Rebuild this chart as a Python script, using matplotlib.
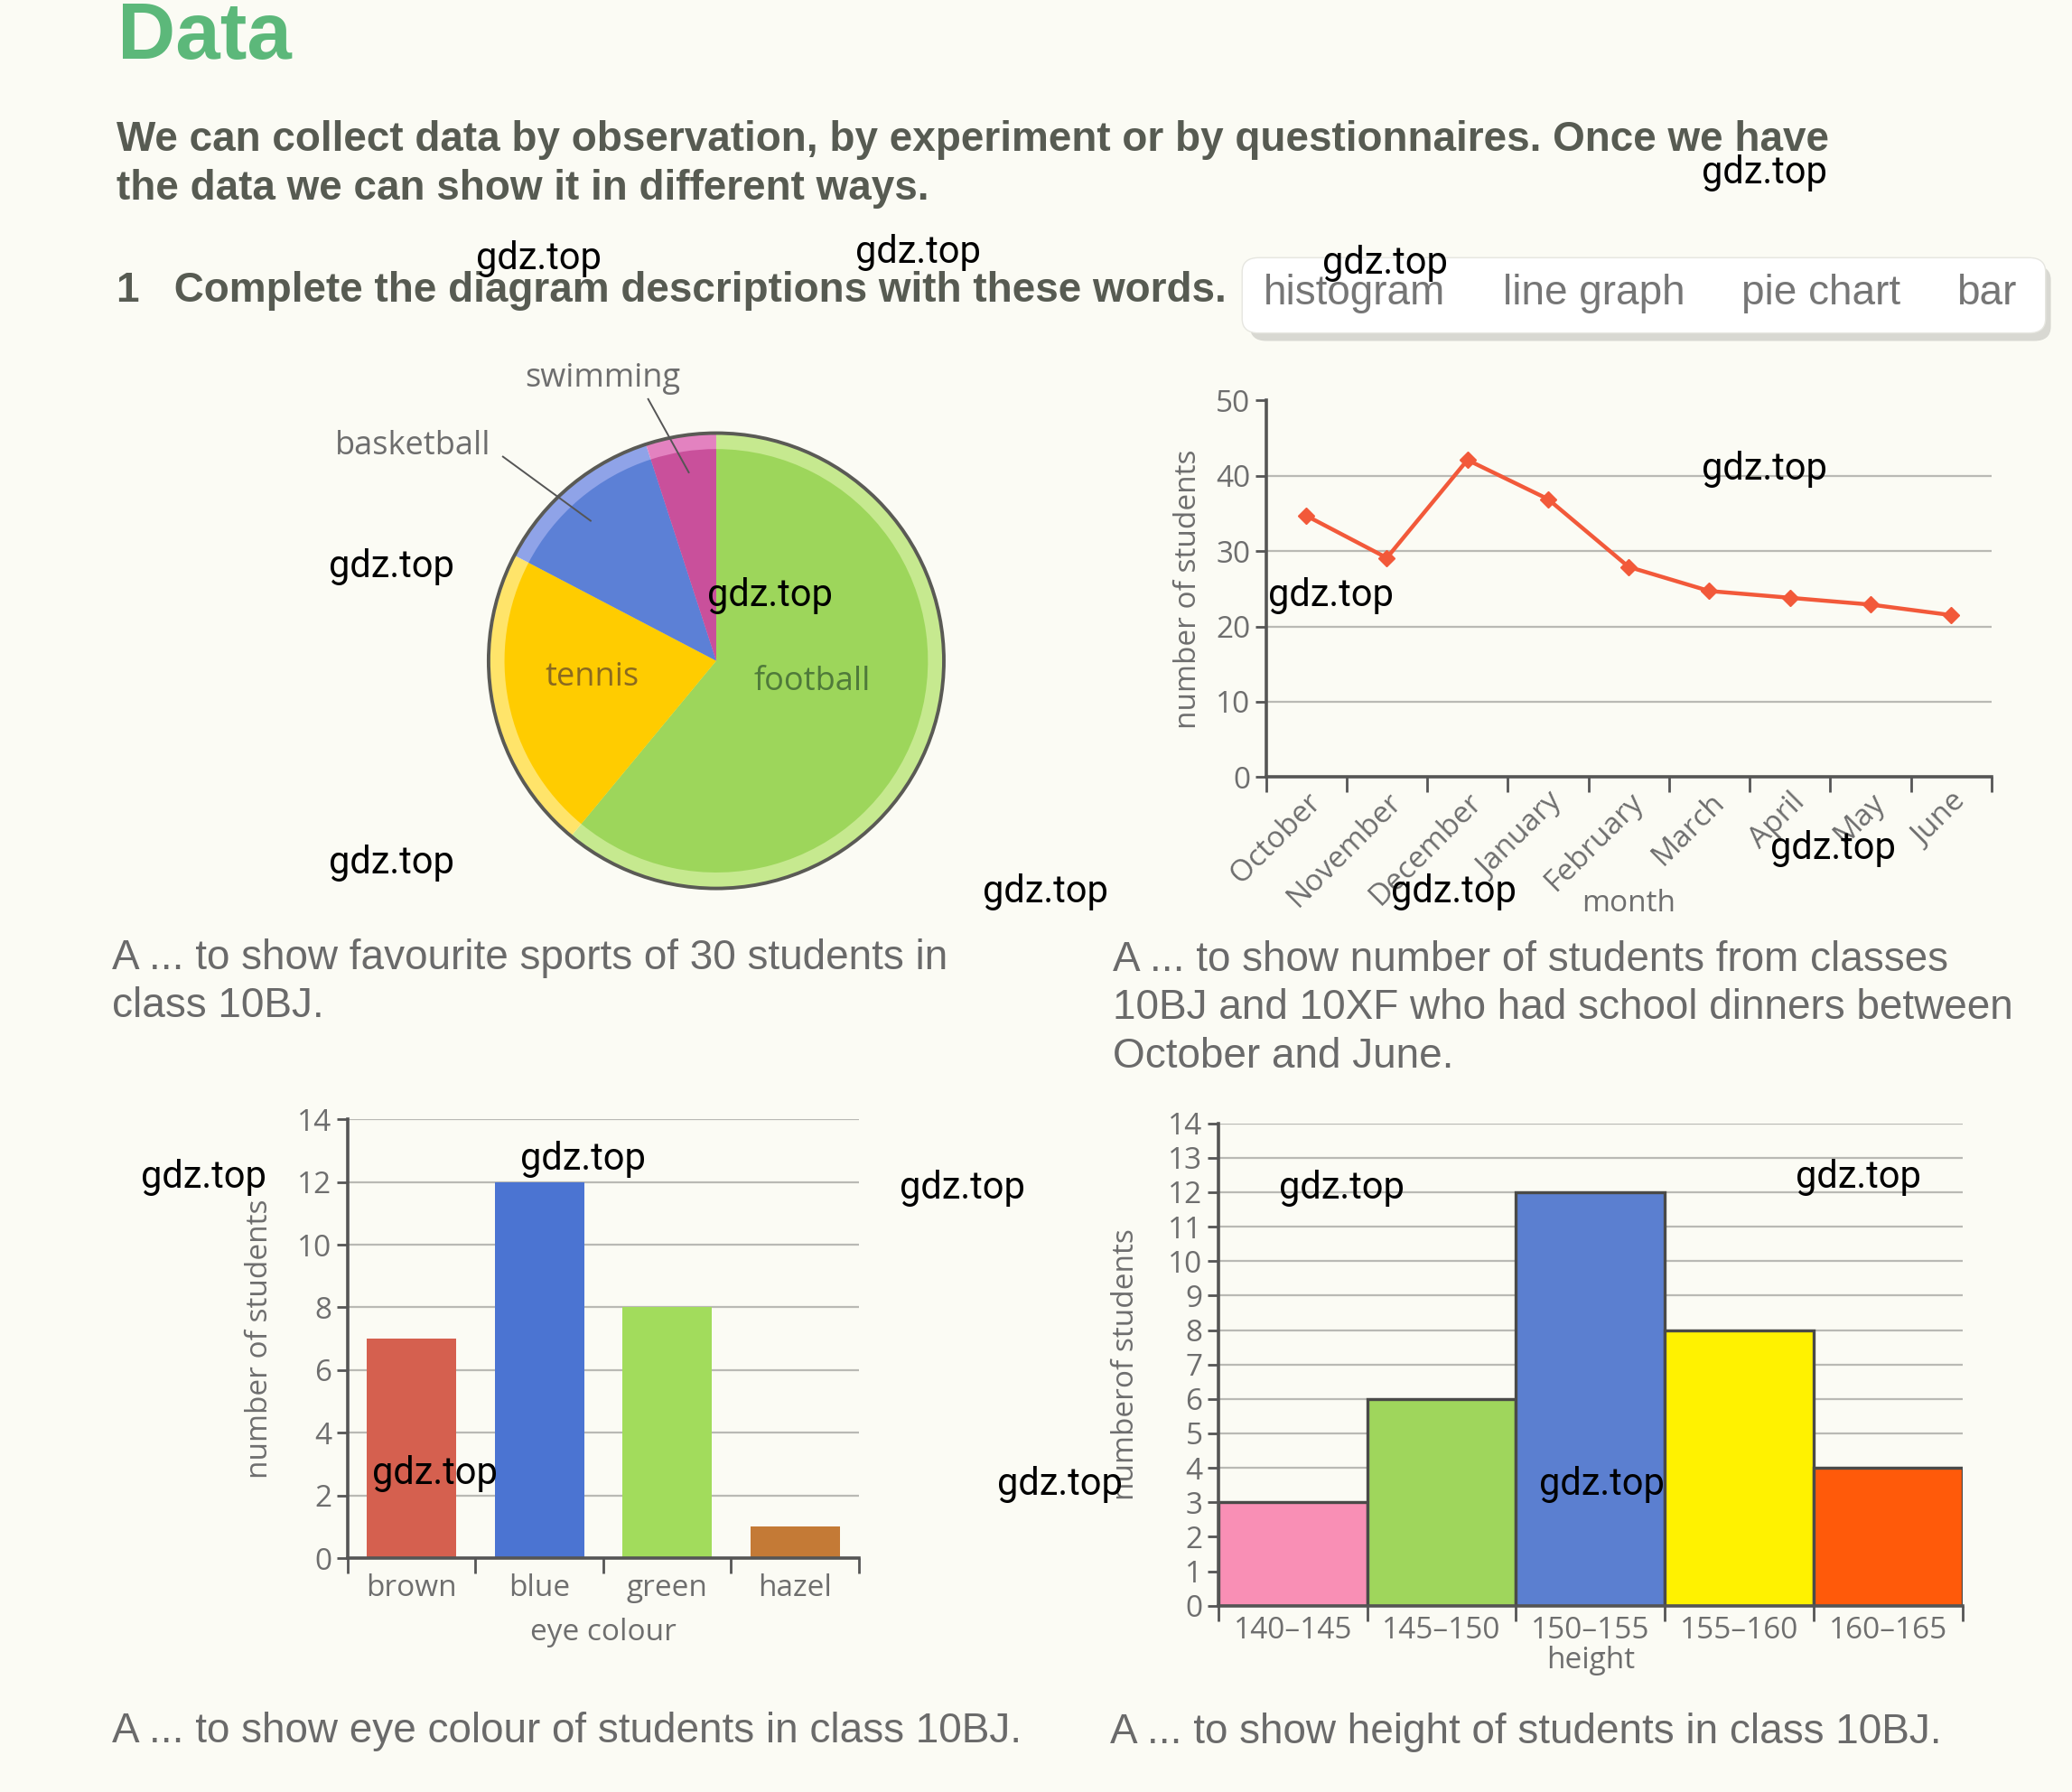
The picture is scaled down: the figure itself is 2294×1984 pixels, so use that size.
import matplotlib.pyplot as plt
from matplotlib.patches import FancyBboxPatch, Circle

# ---- data ----
sports = ["football", "tennis", "basketball", "swimming"]
sport_counts = [18.3, 6.5, 3.7, 1.5]

months = ["October", "November", "December", "January", "February",
          "March", "April", "May", "June"]
dinners = [34.7, 29.1, 42.1, 36.9, 27.9, 24.7, 23.8, 22.9, 21.5]

eye_colours = ["brown", "blue", "green", "hazel"]
eye_counts = [7, 12, 8, 1]

height_bins = ["140–145", "145–150", "150–155", "155–160", "160–165"]
height_counts = [3, 6, 12, 8, 4]

words = ["histogram", "line graph", "pie chart", "bar"]

BG = "#fbfbf4"
AX = "#555555"
LBL = "#6e6e6e"
GRID = "#b9b9b4"
CHART_FONT = ["Open Sans", "DejaVu Sans"]
PAGE_FONT = ["Liberation Sans", "DejaVu Sans"]
WM_FONT = ["Liberation Sans Narrow", "Roboto", "DejaVu Sans"]
FS = 24  # chart text size

W, H = 1568.0, 1356.0  # layout measured on the page at this scale


def fx(x):
    return x / W


def fy(y):
    return 1 - y / H


fig = plt.figure(figsize=(22.94, 19.84), dpi=100, facecolor=BG)

# ---- page text ----
fig.text(fx(89), fy(29), "Data", fontsize=64, fontweight="bold", color="#5cb87a",
         family=PAGE_FONT, va="center")
head_kw = dict(fontsize=33, fontweight="bold", color="#575b52", family=PAGE_FONT, va="center")
fig.text(fx(88), fy(106), "We can collect data by observation, by experiment or by questionnaires. Once we have", **head_kw)
fig.text(fx(88), fy(143), "the data we can show it in different ways.", **head_kw)
fig.text(fx(88), fy(220), "1   Complete the diagram descriptions with these words.", **head_kw)

shadow = FancyBboxPatch((fx(946), fy(258)), fx(1552) - fx(946), fy(201) - fy(258),
                        boxstyle="round,pad=0,rounding_size=0.008",
                        transform=fig.transFigure, facecolor="#d8d8d2", edgecolor="none")
fig.patches.append(shadow)
box = FancyBboxPatch((fx(940), fy(252)), fx(1548) - fx(940), fy(195) - fy(252),
                     boxstyle="round,pad=0,rounding_size=0.008",
                     transform=fig.transFigure, facecolor="white", edgecolor="#e6e6e0")
fig.patches.append(box)
for w, cx in zip(words, [1025, 1206, 1378, 1503]):
    fig.text(fx(cx), fy(222), w, fontsize=33, color="#767676", family=PAGE_FONT,
             ha="center", va="center")

cap_kw = dict(fontsize=33, color="#6a6a6a", family=PAGE_FONT, va="center", linespacing=1.27)
fig.text(fx(85), fy(743), "A ... to show favourite sports of 30 students in\nclass 10BJ.", **cap_kw)
fig.text(fx(842), fy(763), "A ... to show number of students from classes\n10BJ and 10XF who had school dinners between\nOctober and June.", **cap_kw)
fig.text(fx(85), fy(1310), "A ... to show eye colour of students in class 10BJ.", **cap_kw)
fig.text(fx(840), fy(1311), "A ... to show height of students in class 10BJ.", **cap_kw)

# ---- pie chart ----
r_px = 174.0
pie_w = 2 * r_px / W
pie_h = 2 * r_px / H
ax_pie = fig.add_axes([fx(542) - pie_w / 2, fy(500) - pie_h / 2, pie_w, pie_h])
ax_pie.set_facecolor("none")
light = ["#c6e98f", "#ffe46a", "#8fa3e8", "#e382c0"]
main = ["#9dd65b", "#ffcc00", "#5c80d6", "#c9509b"]
ax_pie.pie(sport_counts, colors=light, startangle=90, counterclock=False, radius=1.0,
           wedgeprops=dict(linewidth=0))
ax_pie.pie(sport_counts, colors=main, startangle=90, counterclock=False, radius=0.93,
           wedgeprops=dict(linewidth=0))
ax_pie.add_patch(Circle((0, 0), 1.0, fill=False, edgecolor="#5a5a55", linewidth=2.8))
ax_pie.set_xlim(-1.01, 1.01)
ax_pie.set_ylim(-1.01, 1.01)
ax_pie.set_aspect("equal")
ax_pie.axis("off")


def pd(x, y):
    return ((x - 542) / r_px, (500 - y) / r_px)


for (x0, y0), (x1, y1) in [((490, 300), (521, 356)), ((379, 344), (446, 393))]:
    (a0, b0), (a1, b1) = pd(x0, y0), pd(x1, y1)
    ax_pie.plot([a0, a1], [b0, b1], color="#555555", lw=1.4, clip_on=False)
ax_pie.text(*pd(455, 284), "swimming", fontsize=26, color=LBL, family=CHART_FONT,
            ha="center", va="center")
ax_pie.text(*pd(310, 336), "basketball", fontsize=26, color=LBL, family=CHART_FONT,
            ha="center", va="center")
ax_pie.text(*pd(447, 513), "tennis", fontsize=26, color="#8a6a20", family=CHART_FONT,
            ha="center", va="center")
ax_pie.text(*pd(615, 516), "football", fontsize=26, color="#4f7a3a", family=CHART_FONT,
            ha="center", va="center")


def style_axes(ax):
    ax.set_facecolor("none")
    for s in ["top", "right"]:
        ax.spines[s].set_visible(False)
    for s in ["left", "bottom"]:
        ax.spines[s].set_color(AX)
        ax.spines[s].set_linewidth(2.6)
    ax.tick_params(colors=AX, labelcolor=LBL, labelsize=FS, width=2, length=9)


def set_tick_font(ax):
    for t in ax.get_yticklabels():
        t.set_family(CHART_FONT)


# ---- line graph ----
ax_line = fig.add_axes([fx(958), fy(588), fx(1507) - fx(958), fy(303) - fy(588)])
style_axes(ax_line)
xs = range(len(months))
for g in [10, 20, 30, 40]:
    ax_line.axhline(g, color=GRID, lw=1.6, zorder=0)
ax_line.plot(xs, dinners, color="#f2593a", lw=3.2, marker="D", markersize=9, zorder=3)
ax_line.set_xlim(-0.5, len(months) - 0.5)
ax_line.set_ylim(0, 50)
ax_line.set_yticks([0, 10, 20, 30, 40, 50])
ax_line.set_xticks([i - 0.5 for i in range(len(months) + 1)])
ax_line.set_xticklabels([])
ax_line.set_xticks(list(xs), minor=True)
ax_line.set_xticklabels(months, minor=True, rotation=45, ha="right", va="top",
                        rotation_mode="anchor", fontsize=FS, color=LBL, family=CHART_FONT)
ax_line.tick_params(axis="x", which="minor", length=0, pad=8)
ax_line.tick_params(axis="x", which="major", length=12)
ax_line.set_ylabel("number of students", fontsize=FS, color=LBL, family=CHART_FONT, labelpad=10)
ax_line.text(0.5, -0.335, "month", transform=ax_line.transAxes, fontsize=FS, color=LBL,
             family=CHART_FONT, ha="center", va="center")
set_tick_font(ax_line)

# ---- bar chart ----
ax_bar = fig.add_axes([fx(263), fy(1179), fx(650) - fx(263), fy(847) - fy(1179)])
style_axes(ax_bar)
for g in range(2, 15, 2):
    ax_bar.axhline(g, color=GRID, lw=1.6, zorder=0)
ax_bar.bar(range(len(eye_colours)), eye_counts, width=0.7,
           color=["#d5604f", "#4b74d2", "#a2dc5c", "#c47a36"], zorder=2)
ax_bar.set_xlim(-0.5, len(eye_colours) - 0.5)
ax_bar.set_ylim(0, 14)
ax_bar.set_yticks(range(0, 15, 2))
ax_bar.set_xticks([i - 0.5 for i in range(len(eye_colours) + 1)])
ax_bar.set_xticklabels([])
ax_bar.set_xticks(range(len(eye_colours)), minor=True)
ax_bar.set_xticklabels(eye_colours, minor=True, fontsize=FS, color=LBL, family=CHART_FONT)
ax_bar.tick_params(axis="x", which="minor", length=0, pad=12)
ax_bar.tick_params(axis="x", which="major", length=12)
ax_bar.set_xlabel("eye colour", fontsize=FS, color=LBL, family=CHART_FONT, labelpad=12)
ax_bar.set_ylabel("number of students", fontsize=FS, color=LBL, family=CHART_FONT, labelpad=18)
set_tick_font(ax_bar)

# ---- histogram ----
ax_hist = fig.add_axes([fx(922), fy(1215), fx(1485) - fx(922), fy(850) - fy(1215)])
style_axes(ax_hist)
for g in range(1, 15):
    ax_hist.axhline(g, color=GRID, lw=1.6, zorder=0)
ax_hist.bar([i + 0.5 for i in range(len(height_bins))], height_counts, width=1.0,
            color=["#f98fb5", "#9fd65c", "#5b7fd0", "#fff200", "#ff5a0a"],
            edgecolor="#4a4a48", linewidth=2.4, zorder=2)
ax_hist.set_xlim(0, len(height_bins))
ax_hist.set_ylim(0, 14)
ax_hist.set_yticks(range(0, 15))
ax_hist.set_xticks(range(len(height_bins) + 1))
ax_hist.set_xticklabels([])
ax_hist.set_xticks([i + 0.5 for i in range(len(height_bins))], minor=True)
ax_hist.set_xticklabels(height_bins, minor=True, fontsize=FS, color=LBL, family=CHART_FONT)
ax_hist.tick_params(axis="x", which="minor", length=0, pad=8)
ax_hist.tick_params(axis="x", which="major", length=12)
ax_hist.set_xlabel("height", fontsize=FS, color=LBL, family=CHART_FONT, labelpad=0)
ax_hist.set_ylabel("numberof students", fontsize=FS, color=LBL, family=CHART_FONT, labelpad=22)
set_tick_font(ax_hist)

# ---- watermark stamps on the page ----
wm_spots = [(1335, 131), (408, 196), (695, 191), (1048, 199), (296, 429), (583, 451),
            (1335, 355), (1007, 451), (296, 653), (791, 675), (1100, 675), (1387, 642),
            (154, 891), (441, 877), (728, 899), (1015, 899), (1406, 891), (329, 1115),
            (802, 1123), (1212, 1123)]
for x, y in wm_spots:
    fig.text(fx(x), fy(y), "gdz.top", fontsize=30, color="black", family=WM_FONT,
             ha="center", va="center", zorder=10)

fig.savefig("out.png", dpi=100, facecolor=BG)
